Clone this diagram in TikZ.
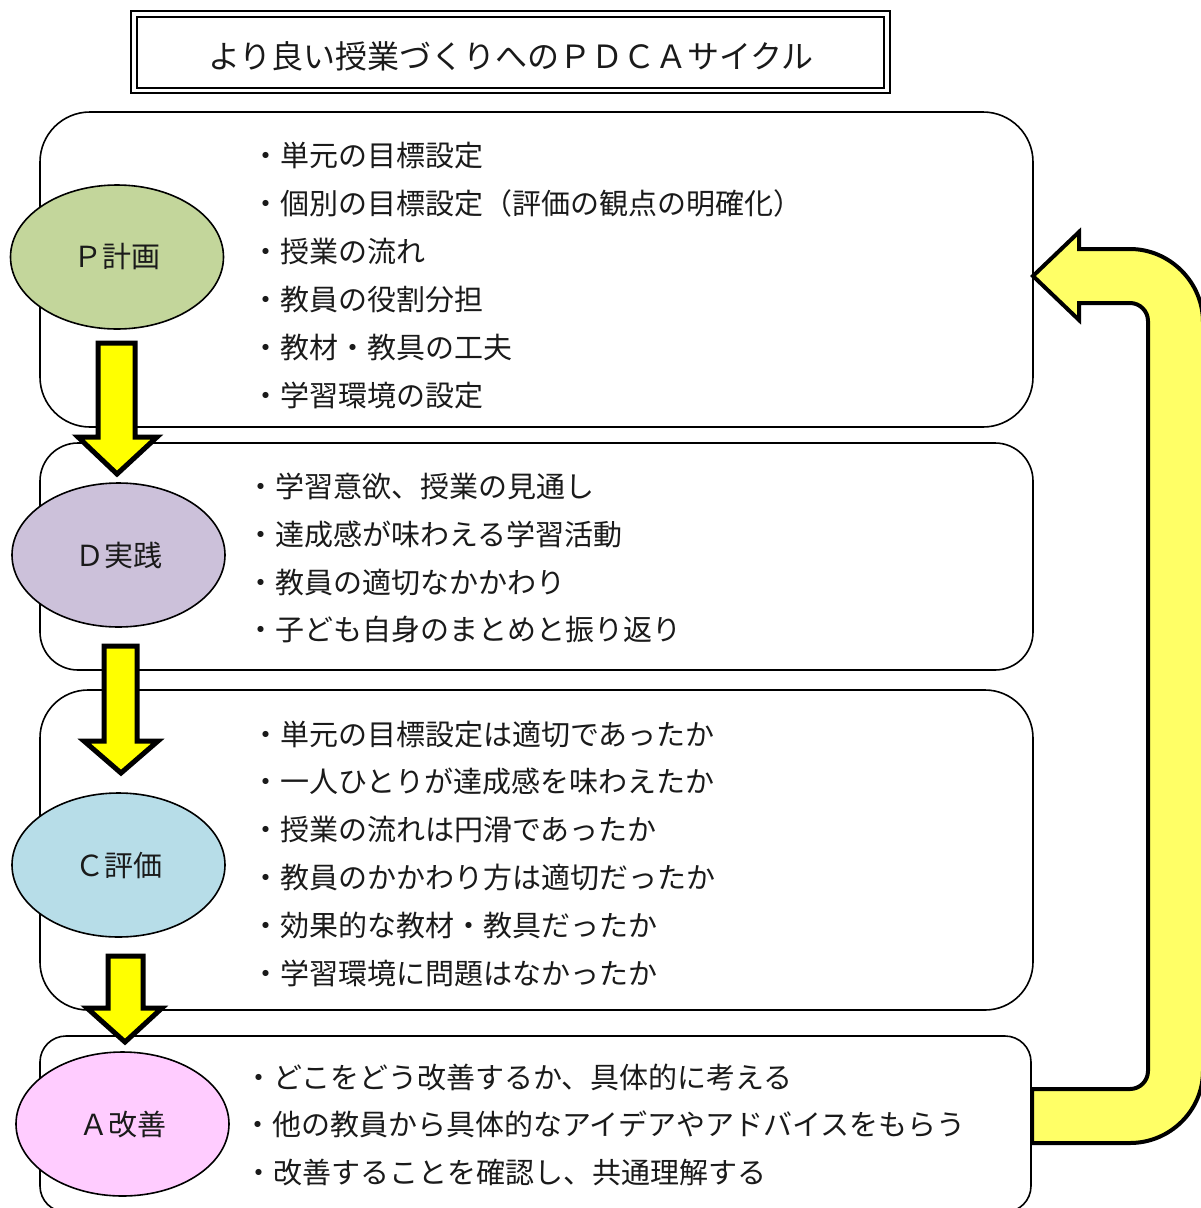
\documentclass[tikz,border=0pt]{standalone}
\usepackage{fontspec}
\setmainfont{Noto Sans CJK JP}
\usetikzlibrary{shapes.geometric}
\definecolor{pgreen}{HTML}{C3D69B}
\definecolor{dpurple}{HTML}{CCC1DA}
\definecolor{cblue}{HTML}{B7DDE8}
\definecolor{apink}{HTML}{FFCCFF}
\definecolor{arrowyellow}{HTML}{FFFF00}
\definecolor{fbyellow}{HTML}{FFFF66}
\definecolor{txt}{HTML}{1A1A1A}
\begin{document}
\begin{tikzpicture}[x=1pt,y=-1pt,
  stagebox/.style={draw=black,line width=1.6pt,rounded corners=#1,minimum width=993pt,inner sep=0pt},
  stageoval/.style={ellipse,draw=black,line width=1.6pt,fill=#1,minimum width=213pt,minimum height=144pt,inner sep=0pt,
     text=txt,font=\fontsize{29}{29}\selectfont},
  itemtext/.style={anchor=west,inner sep=0pt,text=txt,font=\fontsize{29}{29}\selectfont,text height=25.5pt,text depth=3.5pt},
  downarrow/.style={draw=black,line width=5pt,fill=arrowyellow,miter limit=10},
  fbarrow/.style={draw=black,line width=4pt,fill=fbyellow,miter limit=10}]
\useasboundingbox (0,0) rectangle (1201,1208);
\clip (0,0) rectangle (1201,1208);
\fill[white] (0,0) rectangle (1201,1208);

% title
\draw[line width=2.6pt] (131,11) rectangle (890,93);
\node[draw=black,line width=1.8pt,minimum width=747pt,minimum height=71pt,inner sep=0pt] (titlebox) at (510.5,52.5) {};
\node[inner sep=0pt,text=txt,font=\fontsize{32}{32}\selectfont,text height=28pt,text depth=4pt] (title) at (511,56) {より良い授業づくりへのＰＤＣＡサイクル};

% feedback arrow
\draw[fbarrow] (1032,1089) -- (1130,1089) .. controls (1139.9,1089) and (1148,1080.9) .. (1148,1071)
  -- (1148,321) .. controls (1148,311.1) and (1139.9,303) .. (1130,303)
  -- (1079,303) -- (1079,320) -- (1033,276) -- (1079,232) -- (1079,249)
  -- (1130,249) .. controls (1169.8,249) and (1203,282.2) .. (1203,322)
  -- (1203,1071) .. controls (1203,1110.8) and (1169.8,1143) .. (1130,1143)
  -- (1032,1143) -- cycle;

% stage boxes
\node[stagebox=50pt,minimum height=315pt] (boxP) at (536.5,269.5) {};
\node[stagebox=38pt,minimum height=227pt] (boxD) at (536.5,556.5) {};
\node[stagebox=48pt,minimum height=320pt] (boxC) at (536.5,850) {};
\node[stagebox=26pt,minimum height=176pt,minimum width=991pt] (boxA) at (535.5,1124) {};

% stage ovals
\node[stageoval=pgreen] (P) at (117,257) {Ｐ計画};
\node[stageoval=dpurple] (D) at (118.5,555) {Ｄ実践};
\node[stageoval=cblue] (C) at (118.5,865) {Ｃ評価};
\node[stageoval=apink] (A) at (122.5,1124) {Ａ改善};

% down arrows
\draw[downarrow] (98,343) -- (135,343) -- (135,437) -- (157,437) -- (117,474) -- (78,437) -- (98,437) -- cycle;
\draw[downarrow] (104,646) -- (137,646) -- (137,741) -- (158,741) -- (121,773) -- (84,741) -- (104,741) -- cycle;
\draw[downarrow] (108,956) -- (143,956) -- (143,1008) -- (162,1008) -- (125,1042) -- (87,1008) -- (108,1008) -- cycle;

% P items
\node[itemtext] (p1) at (251,155) {・単元の目標設定};
\node[itemtext] (p2) at (251,203) {・個別の目標設定（評価の観点の明確化）};
\node[itemtext] (p3) at (251,251) {・授業の流れ};
\node[itemtext] (p4) at (251,299) {・教員の役割分担};
\node[itemtext] (p5) at (251,347) {・教材・教具の工夫};
\node[itemtext] (p6) at (251,395) {・学習環境の設定};

% D items
\node[itemtext] (d1) at (246,486) {・学習意欲、授業の見通し};
\node[itemtext] (d2) at (246,534) {・達成感が味わえる学習活動};
\node[itemtext] (d3) at (246,582) {・教員の適切なかかわり};
\node[itemtext] (d4) at (246,629) {・子ども自身のまとめと振り返り};

% C items
\node[itemtext] (c1) at (251,734) {・単元の目標設定は適切であったか};
\node[itemtext] (c2) at (251,781) {・一人ひとりが達成感を味わえたか};
\node[itemtext] (c3) at (251,829) {・授業の流れは円滑であったか};
\node[itemtext] (c4) at (251,877) {・教員のかかわり方は適切だったか};
\node[itemtext] (c5) at (251,925) {・効果的な教材・教具だったか};
\node[itemtext] (c6) at (251,973) {・学習環境に問題はなかったか};

% A items
\node[itemtext] (a1) at (244,1077) {・どこをどう改善するか、具体的に考える};
\node[itemtext] (a2) at (243,1124) {・他の教員から具体的なアイデアやアドバイスをもらう};
\node[itemtext] (a3) at (244,1172) {・改善することを確認し、共通理解する};
\end{tikzpicture}
\end{document}
